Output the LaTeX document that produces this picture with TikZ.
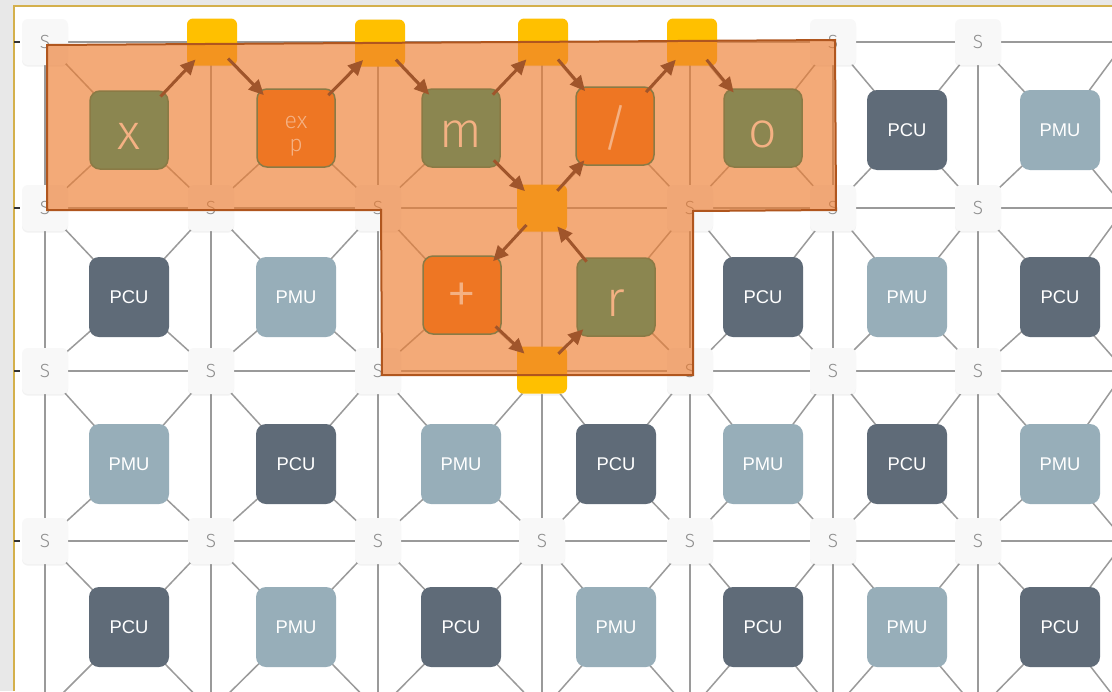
\documentclass[tikz,border=0pt]{standalone}
\usepackage{fontspec}
\setmainfont{Liberation Sans}
\newfontfamily\thinfont{Fira Sans Light}
\usepackage{tikz}
\usetikzlibrary{arrows.meta,shadows}
\definecolor{pcugray}{HTML}{5F6B78}
\definecolor{pmublue}{HTML}{97AEB9}
\definecolor{swfill}{HTML}{F8F8F8}
\definecolor{swtext}{HTML}{8C8C8C}
\definecolor{gridline}{HTML}{9A9A9A}
\definecolor{mapolive}{HTML}{8B8650}
\definecolor{maporange}{HTML}{EE7623}
\definecolor{mapedge}{HTML}{8A7A45}
\definecolor{maptext}{HTML}{F4B183}
\definecolor{routegold}{HTML}{FFC000}
\definecolor{regionfill}{HTML}{ED7D31}
\definecolor{regionedge}{HTML}{B0561E}
\definecolor{flowbrown}{HTML}{A0552B}
\definecolor{framegold}{HTML}{D4B04C}

\begin{document}
\begin{tikzpicture}[x=0.5pt, y=-0.5pt,
    link/.style={draw=gridline, line width=0.75pt},
    switch/.style={rounded corners=3pt, minimum size=23pt, inner sep=0pt, fill=swfill, text=swtext,
        font=\thinfont\fontsize{9.5}{9}\selectfont, drop shadow={shadow xshift=0pt, shadow yshift=-0.8pt, opacity=0.1}},
    unit/.style={rounded corners=5pt, minimum size=40pt, inner sep=0pt, text=white, font=\fontsize{9.2}{10}\selectfont},
    PCU/.style={unit, fill=pcugray},
    PMU/.style={unit, fill=pmublue},
    hop/.style={rounded corners=3pt, minimum width=25pt, minimum height=23.5pt, inner sep=0pt, fill=routegold},
    region/.style={fill=regionfill, fill opacity=0.65, draw=regionedge, line width=1pt},
    mapped/.style={rounded corners=5pt, minimum size=39pt, inner sep=0pt, draw=mapedge, line width=0.75pt,
        text=maptext, font=\thinfont\fontsize{25}{25}\selectfont, text height=19pt, text depth=0pt},
    varunit/.style={mapped, fill=mapolive},
    opunit/.style={mapped, fill=maporange},
    flow/.style={draw=flowbrown, line width=1.5pt, -{Triangle[length=7.5pt, width=7pt]}},
    tosw/.style={flow, shorten <=23pt, shorten >=12pt},
    fromsw/.style={flow, shorten <=11.5pt, shorten >=23pt}]

    \useasboundingbox (0,0) rectangle (1112,691);

    % Page and frame
    \fill[gray!18] (0,0) rectangle (1112,691);
    \fill[white] (14,6) rectangle (1112,691);
    \draw[framegold, line width=1pt] (14,691) -- (14,6) -- (1112,6);

    % Switch and unit positions
    \foreach \y [count=\r] in {42,208,371,541,711}
        \foreach \x [count=\c] in {45,211,378,542,690,833,978,1125}
            \coordinate (p-\r-\c) at (\x,\y);
    \foreach \y [count=\r] in {130,297,464,627}
        \foreach \x [count=\c] in {129,296,461,616,763,907,1060}
            \coordinate (q-\r-\c) at (\x,\y);

    % Interconnect
    \begin{scope}
        \clip (14,6) rectangle (1112,691);
        \foreach \r in {1,...,4}
            \draw[link] (p-\r-1) -- (p-\r-8);
        \foreach \c in {1,...,7}
            \draw[link] (p-1-\c) -- (p-5-\c);
        \foreach \r in {1,...,4}
            \foreach \c in {1,...,7} {
                \pgfmathtruncatemacro\rn{\r+1}
                \pgfmathtruncatemacro\cn{\c+1}
                \draw[link] (p-\r-\c) -- (q-\r-\c) -- (p-\rn-\cn)
                    (p-\r-\cn) -- (q-\r-\c) -- (p-\rn-\c);
            }
    \end{scope}

    % Ticks on the frame
    \foreach \r in {1,...,4}
        \draw[black!80, line width=0.8pt] (p-\r-1 -| 14,0) -- ++(6,0);

    % Switches
    \foreach \r in {1,...,4}
        \foreach \c in {1,...,7}
            \node[switch] (s-\r-\c) at (p-\r-\c) {S};

    % Compute and memory units
    \foreach \c/\t in {6/PCU,7/PMU}
        \node[\t] (u-1-\c) at (q-1-\c) {\t};
    \foreach \c/\t in {1/PCU,2/PMU,5/PCU,6/PMU,7/PCU}
        \node[\t] (u-2-\c) at (q-2-\c) {\t};
    \foreach \c/\t in {1/PMU,2/PCU,3/PMU,4/PCU,5/PMU,6/PCU,7/PMU}
        \node[\t] (u-3-\c) at (q-3-\c) {\t};
    \foreach \c/\t in {1/PCU,2/PMU,3/PCU,4/PMU,5/PCU,6/PMU,7/PCU}
        \node[\t] (u-4-\c) at (q-4-\c) {\t};

    % Switches used by the route
    \node[hop] (hop1) at (212,42) {};
    \node[hop] (hop2) at (380,43) {};
    \node[hop] (hop3) at (543,42) {};
    \node[hop] (hop4) at (692,42) {};
    \node[hop] (hub) at (542,208) {};
    \node[hop] (loop) at (542,370) {};

    % Mapped region
    \draw[region] (47,45) -- (835,40) -- (836,210) -- (693,211) -- (693,375)
        -- (382,375) -- (381,210) -- (47,210) -- cycle;

    % Mapped operations
    \node[varunit] (x) at (129,130) {x};
    \node[opunit, font=\thinfont\fontsize{11.5}{11.5}\selectfont, align=center, text height=23pt, text depth=0pt]
        (exp) at (296,128) {ex\\p};
    \node[varunit] (m) at (461,128) {m};
    \node[opunit] (div) at (615,126) {/};
    \node[varunit] (o) at (763,128) {o};
    \node[opunit, font=\thinfont\fontsize{31}{31}\selectfont] (plus) at (462,295) {+};
    \node[varunit] (r) at (616,297) {r};

    % Data flow
    \draw[tosw] (x.center) -- (hop1.center);
    \draw[fromsw] (hop1.center) -- (exp.center);
    \draw[tosw] (exp.center) -- (hop2.center);
    \draw[fromsw] (hop2.center) -- (m.center);
    \draw[tosw] (m.center) -- (hop3.center);
    \draw[fromsw] (hop3.center) -- (div.center);
    \draw[tosw] (div.center) -- (hop4.center);
    \draw[fromsw] (hop4.center) -- (o.center);
    \draw[tosw] (m.center) -- (hub.center);
    \draw[fromsw] (hub.center) -- (div.center);
    \draw[fromsw] (hub.center) -- (plus.center);
    \draw[tosw] (r.center) -- (hub.center);
    \draw[tosw] (plus.center) -- (loop.center);
    \draw[fromsw] (loop.center) -- (r.center);
\end{tikzpicture}
\end{document}
